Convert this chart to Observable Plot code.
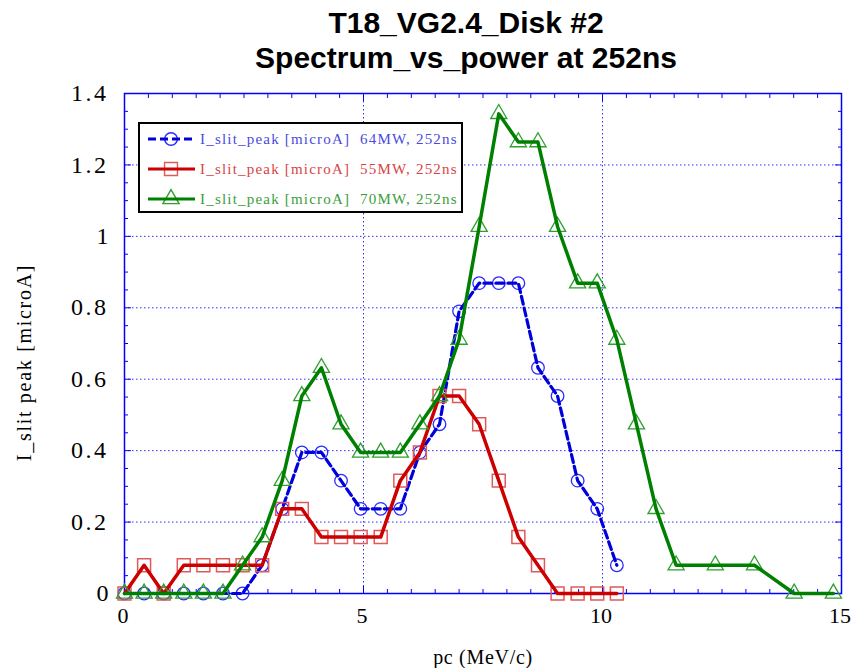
<!DOCTYPE html>
<html><head><meta charset="utf-8">
<script src="https://cdn.jsdelivr.net/npm/d3@7"></script>
<script src="https://cdn.jsdelivr.net/npm/@observablehq/plot@0.6"></script>
<style>
html,body{margin:0;padding:0;background:#fff;overflow:hidden;width:852px;height:668px}
#title{position:absolute;left:80px;top:5px;width:772px;text-align:center;font:bold 30px/35px "Liberation Sans",Arial,sans-serif;color:#000}
#chart{position:absolute;left:0;top:80px}
#legend{position:absolute;left:138px;top:122px;width:321px;height:87px;border:2px solid #000;background:#fff}
</style></head><body>
<div id="title">T18_VG2.4_Disk #2<br>Spectrum_vs_power at 252ns</div>
<div id="chart"></div>
<div id="legend"></div>
<script>
// ---- data ----
const pcShort = [0, 0.41, 0.82, 1.24, 1.65, 2.06, 2.47, 2.88, 3.30, 3.71, 4.12, 4.53, 4.94, 5.36, 5.77, 6.18, 6.59, 7.00, 7.42, 7.83, 8.24, 8.65, 9.06, 9.48, 9.89, 10.30];
const i64 = [0, 0, 0, 0, 0, 0, 0, 0.079, 0.237, 0.395, 0.395, 0.316, 0.237, 0.237, 0.237, 0.395, 0.474, 0.79, 0.869, 0.869, 0.869, 0.632, 0.553, 0.316, 0.237, 0.079];
const i55 = [0, 0.079, 0, 0.079, 0.079, 0.079, 0.079, 0.079, 0.237, 0.237, 0.158, 0.158, 0.158, 0.158, 0.316, 0.395, 0.553, 0.553, 0.474, 0.316, 0.158, 0.079, 0, 0, 0, 0];
const pcLong = [0, 0.41, 0.82, 1.24, 1.65, 2.06, 2.47, 2.88, 3.30, 3.71, 4.12, 4.53, 4.94, 5.36, 5.77, 6.18, 6.59, 7.00, 7.42, 7.83, 8.24, 8.65, 9.06, 9.48, 9.89, 10.30, 10.71, 11.12, 11.54, 12.36, 13.18, 14.01, 14.83];
const i70 = [0, 0, 0, 0, 0, 0, 0.079, 0.158, 0.316, 0.553, 0.632, 0.474, 0.395, 0.395, 0.395, 0.474, 0.553, 0.711, 1.027, 1.343, 1.264, 1.264, 1.027, 0.869, 0.869, 0.711, 0.474, 0.237, 0.079, 0.079, 0.079, 0, 0];
const seriesNames = ["I_slit_peak [microA]  64MW, 252ns", "I_slit_peak [microA]  55MW, 252ns", "I_slit_peak [microA]  70MW, 252ns"];
const xTicks = [0, 5, 10, 15];
const yTicks = [0, 0.2, 0.4, 0.6, 0.8, 1, 1.2, 1.4];
const xLabel = "pc (MeV/c)";
const yLabel = "I_slit peak [microA]";

const s64 = pcShort.map((x, i) => ({pc: x, v: i64[i]}));
const s55 = pcShort.map((x, i) => ({pc: x, v: i55[i]}));
const s70 = pcLong.map((x, i) => ({pc: x, v: i70[i]}));

const xMinor = d3.range(0.5, 15, 0.5).filter(d => d % 5 !== 0);
const yMinor = d3.range(1, 28).map(k => k * 0.05).filter(d => Math.abs(d / 0.2 - Math.round(d / 0.2)) > 1e-6);
const xInner = [5, 10];
const yInner = [0.2, 0.4, 0.6, 0.8, 1, 1.2];

const serif = "'Liberation Serif','Times New Roman',serif";
const AX = "#0000ff";
const C = {
  b: {line: "#0000dd", mark: "#2a2aff", text: "#4a4ae0"},
  r: {line: "#cc0000", mark: "#e05a5a", text: "#d84444"},
  g: {line: "#008000", mark: "#2f9f2f", text: "#3a9e3a"}
};

function tickAxes(xs, ys, len) {
  return [
    Plot.axisX(xs, {anchor: "bottom", tickSize: len, dy: -len, stroke: AX, fill: "none", label: null}),
    Plot.axisX(xs, {anchor: "top", tickSize: len, dy: len, stroke: AX, fill: "none", label: null}),
    Plot.axisY(ys, {anchor: "left", tickSize: len, dx: len, stroke: AX, fill: "none", label: null}),
    Plot.axisY(ys, {anchor: "right", tickSize: len, dx: -len, stroke: AX, fill: "none", label: null})
  ];
}

const chart = Plot.plot({
  width: 852, height: 588,
  marginLeft: 124, marginRight: 11, marginTop: 13, marginBottom: 75,
  x: {domain: [0, 15]},
  y: {domain: [0, 1.4]},
  style: {background: "white", overflow: "visible"},
  marks: [
    Plot.gridX(xInner, {stroke: "#3030ff", strokeOpacity: 1, strokeWidth: 1, strokeDasharray: "1.5,2.5"}),
    Plot.gridY(yInner, {stroke: "#3030ff", strokeOpacity: 1, strokeWidth: 1, strokeDasharray: "1.5,2.5"}),
    ...tickAxes(xMinor, yMinor, 4),
    ...tickAxes(xInner, yInner, 7),
    Plot.frame({stroke: AX, strokeWidth: 1.5}),
    Plot.axisX(xTicks, {anchor: "bottom", tickSize: 0, tickPadding: 14, dx: -1.5, fontSize: 22, fontFamily: serif, fill: "#000", label: null, tickFormat: d => String(d)}),
    Plot.axisY(yTicks, {anchor: "left", tickSize: 0, tickPadding: 16, fontSize: 24, fontFamily: serif, fill: "#000", label: null, tickFormat: d => String(d)}),
    Plot.text([xLabel], {frameAnchor: "bottom", dy: 64, text: d => d, fontSize: 20, fontFamily: serif, fill: "#000", textAnchor: "middle", lineAnchor: "middle"}),
    Plot.text([yLabel], {frameAnchor: "left", dx: -100, dy: 19, rotate: -90, text: d => d, fontSize: 20, fontFamily: serif, fill: "#000", textAnchor: "middle", lineAnchor: "middle"}),
    Plot.dot(s64, {x: "pc", y: "v", symbol: "circle", r: 6.3, stroke: C.b.mark, strokeWidth: 1.3, fill: "none"}),
    Plot.line(s64, {x: "pc", y: "v", stroke: C.b.line, strokeWidth: 3.2, strokeDasharray: "8,4"}),
    Plot.dot(s55, {x: "pc", y: "v", symbol: "square", r: 7.3, stroke: C.r.mark, strokeWidth: 1.5, fill: "none"}),
    Plot.line(s55, {x: "pc", y: "v", stroke: C.r.line, strokeWidth: 3.5}),
    Plot.dot(s70, {x: "pc", y: "v", symbol: "triangle", r: 6, stroke: C.g.mark, strokeWidth: 1.3, fill: "none"}),
    Plot.line(s70, {x: "pc", y: "v", stroke: C.g.line, strokeWidth: 3.5})
  ]
});
document.getElementById("chart").appendChild(chart);

// letter spacing to mimic the monospaced Mincho look of the original
d3.select(chart).selectAll("text").each(function () {
  const t = this.textContent;
  if (t === xLabel) this.setAttribute("letter-spacing", "0.7px");
  else if (t === yLabel) this.setAttribute("letter-spacing", "1.7px");
  else if (/^[0-9]+\.[0-9]+$/.test(t)) this.setAttribute("letter-spacing", "2.5px");
});

// ---- legend ----
const legendRows = [
  {name: seriesNames[0], c: C.b, sym: d3.symbolCircle, r: 6.3, dash: "8,4"},
  {name: seriesNames[1], c: C.r, sym: d3.symbolSquare, r: 7.3, dash: null},
  {name: seriesNames[2], c: C.g, sym: d3.symbolTriangle, r: 6, dash: null}
];
const lg = d3.select("#legend").append("svg").attr("width", 321).attr("height", 87);
legendRows.forEach((row, i) => {
  const y = 15 + i * 30;
  lg.append("path").attr("d", d3.symbol(row.sym, row.r * row.r * Math.PI)())
    .attr("transform", `translate(31,${y})`).attr("fill", "white").attr("stroke", row.c.mark).attr("stroke-width", 1.4);
  lg.append("line").attr("x1", 8).attr("x2", 55).attr("y1", y).attr("y2", y)
    .attr("stroke", row.c.line).attr("stroke-width", 3.2).attr("stroke-dasharray", row.dash);
  lg.append("text").attr("x", 60).attr("y", y).attr("dy", "0.35em")
    .attr("fill", row.c.text).attr("font-family", serif).attr("font-size", 15)
    .attr("letter-spacing", "1.2px").style("white-space", "pre").text(row.name);
});
</script>
</body></html>
